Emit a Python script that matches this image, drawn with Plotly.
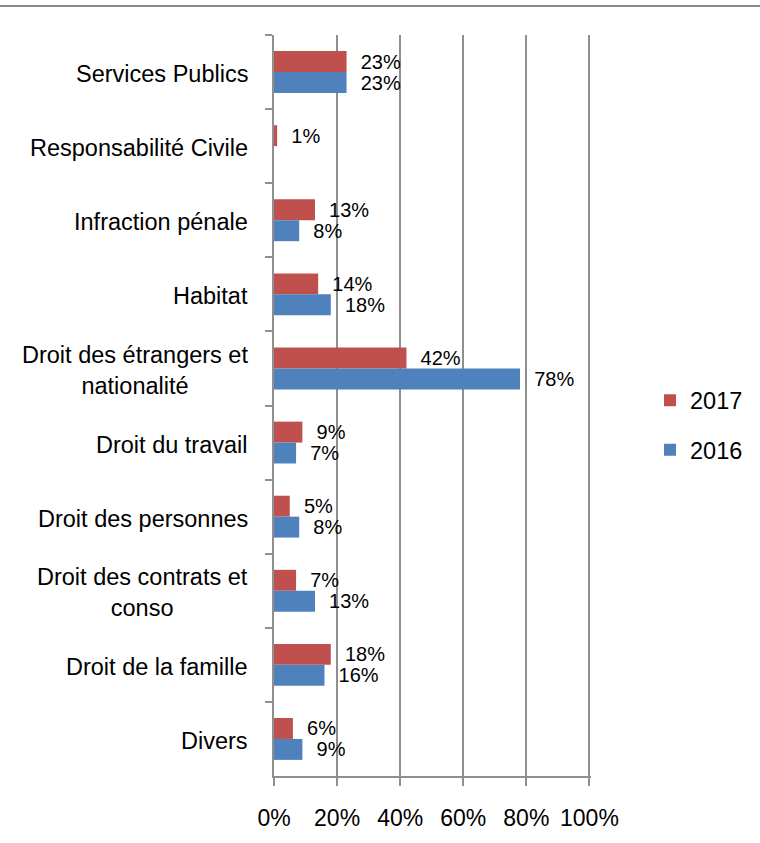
import plotly.graph_objects as go

# Categories, top to bottom
categories = [
    "Services Publics",
    "Responsabilité Civile",
    "Infraction pénale",
    "Habitat",
    "Droit des étrangers et nationalité",
    "Droit du travail",
    "Droit des personnes",
    "Droit des contrats et conso",
    "Droit de la famille",
    "Divers",
]
category_labels = [
    "Services Publics",
    "Responsabilité Civile",
    "Infraction pénale",
    "Habitat",
    "Droit des étrangers et<br>nationalité",
    "Droit du travail",
    "Droit des personnes",
    "Droit des contrats et<br>conso",
    "Droit de la famille",
    "Divers",
]

# Share of cases per domain (%)
values_2017 = [23, 1, 13, 14, 42, 9, 5, 7, 18, 6]
values_2016 = [23, None, 8, 18, 78, 7, 8, 13, 16, 9]

x_ticks = [0, 20, 40, 60, 80, 100]
x_tick_labels = ["0%", "20%", "40%", "60%", "80%", "100%"]

RED = "#C0504D"
BLUE = "#4F81BD"
GRID = "#8f8f8f"
FONT = "Liberation Sans"


def labels(values):
    return ["\u00a0\u00a0%d%%" % v if v is not None else "" for v in values]


fig = go.Figure()
for name, vals, color in [("2017", values_2017, RED), ("2016", values_2016, BLUE)]:
    fig.add_trace(go.Bar(
        name=name,
        orientation="h",
        y=categories,
        x=vals,
        marker=dict(color=color, line=dict(width=0)),
        text=labels(vals),
        textposition="outside",
        constraintext="none",
        cliponaxis=False,
        outsidetextfont=dict(family=FONT, size=20, color="black"),
        legendgroup=name,
    ))

# Category labels, centred line by line
for cat, lab in zip(categories, category_labels):
    fig.add_annotation(
        x=0, xref="paper", y=cat, yref="y",
        text=lab, showarrow=False,
        xanchor="right", yanchor="middle", align="center",
        xshift=-24, yshift=-2,
        font=dict(family=FONT, size=23.5, color="black"),
    )

X_MAX = 100.5
L, T, B = 274, 35, 64
W, H = 760, 843
pw = round(315 * X_MAX / 100)
R = W - L - pw
ph = H - T - B

# Thin frame line across the top of the chart area
fig.add_shape(
    type="line", xref="paper", yref="paper",
    x0=-L / pw, x1=(W - L) / pw, y0=1 + (T - 6) / ph, y1=1 + (T - 6) / ph,
    line=dict(color="#8a8a8a", width=2),
)

fig.update_layout(
    width=W, height=H,
    margin=dict(l=L, r=R, t=T, b=B),
    paper_bgcolor="white", plot_bgcolor="white",
    barmode="group", bargap=0.435, bargroupgap=0,
    font=dict(family=FONT, color="black"),
    showlegend=True,
    legend=dict(
        x=(650 - L) / pw, xanchor="left",
        y=1 - (427 - T) / ph, yanchor="middle",
        font=dict(family=FONT, size=23.5, color="black"),
        traceorder="grouped", tracegroupgap=16,
        bgcolor="rgba(0,0,0,0)",
    ),
    xaxis=dict(
        range=[0, X_MAX], tickmode="array", tickvals=x_ticks, ticktext=x_tick_labels,
        showgrid=True, gridcolor=GRID, gridwidth=1.6,
        zeroline=False,
        showline=True, linecolor=GRID, linewidth=2,
        ticks="outside", ticklen=8, tickwidth=2, tickcolor=GRID,
        tickfont=dict(family=FONT, size=23, color="black"),
        ticklabelstandoff=12,
    ),
    yaxis=dict(
        type="category", categoryorder="array", categoryarray=categories,
        autorange="reversed",
        showticklabels=False, showgrid=False, zeroline=False,
        showline=True, linecolor=GRID, linewidth=2,
        ticks="outside", tickson="boundaries", ticklen=7, tickwidth=2, tickcolor=GRID,
    ),
)

fig.write_html("out.html")
